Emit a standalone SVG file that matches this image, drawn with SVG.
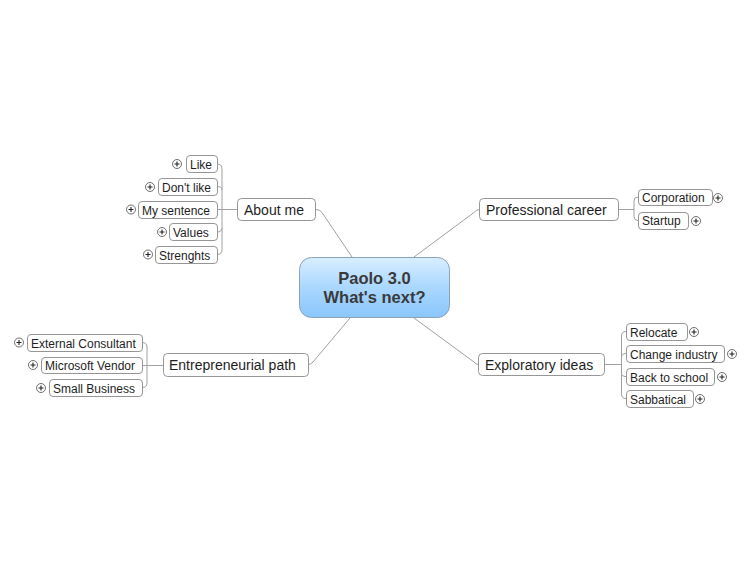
<svg xmlns="http://www.w3.org/2000/svg" width="750" height="563" viewBox="0 0 750 563">
<defs>
<linearGradient id="cg" x1="0" y1="0" x2="0" y2="1">
<stop offset="0" stop-color="#d8eeff"/>
<stop offset="0.5" stop-color="#aad7ff"/>
<stop offset="1" stop-color="#8ac6fd"/>
</linearGradient>
<symbol id="plus" viewBox="-5 -5 10 10" overflow="visible">
<circle r="4.5" fill="#fff" stroke="#6e6e6e" stroke-width="1"/>
<path d="M-2.5,0H2.5M0,-2.5V2.5" stroke="#222" stroke-width="1.1"/>
</symbol>
</defs>
<style>
.n{fill:#fff;stroke:#969696;stroke-width:1}
.t1{font-family:"Liberation Sans",Arial,sans-serif;font-size:14px;fill:#1e1e1e}
.t2{font-family:"Liberation Sans",Arial,sans-serif;font-size:12px;fill:#1e1e1e}
.tc{font-family:"Liberation Sans",Arial,sans-serif;font-size:16.5px;font-weight:bold;fill:#3a3a3a;text-anchor:middle}
.c{fill:none;stroke:#a0a0a0;stroke-width:1}
</style>
<rect width="750" height="563" fill="#fff"/>
<g id="connectors" class="c">
<path d="M315.5,209.5 Q320,209.5 322,212.5 L352,257"/>
<path d="M414,257 L474,212.5 Q476,209.5 480,209.5"/>
<path d="M414,318 L474,362 Q476,364.5 479,364.5"/>
<path d="M350,318 L313,362 Q311,364.5 308,364.5"/>
<path d="M217,164 Q222,164 222,169 V249.5 Q222,254.5 217,254.5 M217,186.5 Q222,186.5 222,190 M217,232 Q222,232 222,228 M217,209.5 H237"/>
<path d="M638,197 Q634,197 634,201 V216.5 Q634,220.5 638,220.5 M618,209.5 H634"/>
<path d="M626,331.5 Q621.5,331.5 621.5,336 V394 Q621.5,398.5 626,398.5 M626,353.5 Q621.5,353.5 621.5,357 M626,376.5 Q621.5,376.5 621.5,373 M605,364.5 H621.5"/>
<path d="M142,342.5 Q147,342.5 147,347 V383 Q147,387.5 142,387.5 M142,365.5 H163"/>
</g>
<g id="center">
<rect x="299.5" y="257.5" width="150" height="60" rx="12" fill="url(#cg)" stroke="#8aa2ba"/>
<text class="tc" x="374.5" y="283.5">Paolo 3.0</text>
<text class="tc" x="374.5" y="302.5">What's next?</text>
</g>
<g id="about-me"><rect class="n" x="237.5" y="198.5" width="78" height="22" rx="4"/><text class="t1" x="244" y="214.5">About me</text></g>
<g id="like"><rect class="n" x="186.5" y="155.5" width="31" height="17" rx="3.5"/><text class="t2" x="190" y="168.5">Like</text><use href="#plus" x="172" y="159" width="10" height="10"/></g>
<g id="dont-like"><rect class="n" x="158.5" y="178.5" width="59" height="17" rx="3.5"/><text class="t2" x="162" y="191.5">Don't like</text><use href="#plus" x="145" y="182" width="10" height="10"/></g>
<g id="my-sentence"><rect class="n" x="138.5" y="201.5" width="79" height="17" rx="3.5"/><text class="t2" x="142" y="214.5">My sentence</text><use href="#plus" x="126" y="204.5" width="10" height="10"/></g>
<g id="values"><rect class="n" x="169.5" y="223.5" width="48" height="17" rx="3.5"/><text class="t2" x="173" y="236.5">Values</text><use href="#plus" x="157" y="227" width="10" height="10"/></g>
<g id="strenghts"><rect class="n" x="155.5" y="246.5" width="62" height="17" rx="3.5"/><text class="t2" x="159" y="259.5">Strenghts</text><use href="#plus" x="143" y="249.5" width="10" height="10"/></g>
<g id="professional-career"><rect class="n" x="479.5" y="198.5" width="139" height="22" rx="4"/><text class="t1" x="486" y="214.5">Professional career</text></g>
<g id="corporation"><rect class="n" x="638.5" y="189.5" width="74" height="16" rx="3.5"/><text class="t2" x="642" y="202">Corporation</text><use href="#plus" x="713" y="193" width="10" height="10"/></g>
<g id="startup"><rect class="n" x="638.5" y="212.5" width="50" height="17" rx="3.5"/><text class="t2" x="642" y="225">Startup</text><use href="#plus" x="691" y="216" width="10" height="10"/></g>
<g id="exploratory-ideas"><rect class="n" x="478.5" y="353.5" width="126" height="22" rx="4"/><text class="t1" x="485" y="369.5">Exploratory ideas</text></g>
<g id="relocate"><rect class="n" x="626.5" y="323.5" width="61" height="17" rx="3.5"/><text class="t2" x="630" y="336.5">Relocate</text><use href="#plus" x="689" y="327" width="10" height="10"/></g>
<g id="change-industry"><rect class="n" x="626.5" y="345.5" width="98" height="17" rx="3.5"/><text class="t2" x="630" y="358.5">Change industry</text><use href="#plus" x="727" y="349" width="10" height="10"/></g>
<g id="back-to-school"><rect class="n" x="626.5" y="368.5" width="88" height="17" rx="3.5"/><text class="t2" x="630" y="381.5">Back to school</text><use href="#plus" x="717" y="372" width="10" height="10"/></g>
<g id="sabbatical"><rect class="n" x="626.5" y="390.5" width="67" height="17" rx="3.5"/><text class="t2" x="630" y="403.5">Sabbatical</text><use href="#plus" x="695" y="394" width="10" height="10"/></g>
<g id="entrepreneurial-path"><rect class="n" x="163.5" y="353.5" width="145" height="23" rx="4"/><text class="t1" x="169" y="370">Entrepreneurial path</text></g>
<g id="external-consultant"><rect class="n" x="27.5" y="334.5" width="115" height="17" rx="3.5"/><text class="t2" x="31" y="347.5">External Consultant</text><use href="#plus" x="14" y="337.5" width="10" height="10"/></g>
<g id="microsoft-vendor"><rect class="n" x="41.5" y="357.5" width="101" height="16" rx="3.5"/><text class="t2" x="45" y="370">Microsoft Vendor</text><use href="#plus" x="28" y="360" width="10" height="10"/></g>
<g id="small-business"><rect class="n" x="49.5" y="379.5" width="93" height="17" rx="3.5"/><text class="t2" x="53" y="392.5">Small Business</text><use href="#plus" x="36" y="383" width="10" height="10"/></g>
</svg>
